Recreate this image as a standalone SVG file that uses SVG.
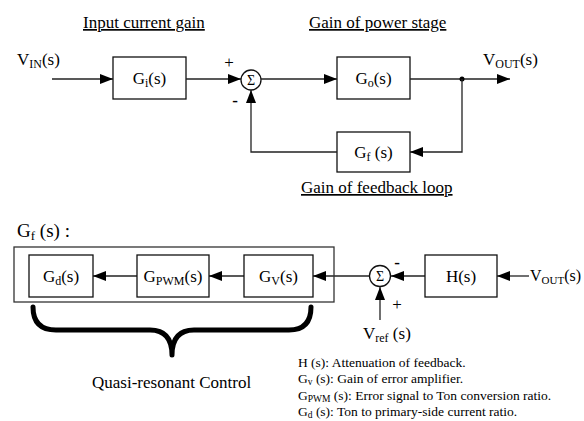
<svg xmlns="http://www.w3.org/2000/svg" width="584" height="421" viewBox="0 0 584 421">
<style>
text{font-family:"Liberation Serif","Times New Roman",serif;fill:#000}
.t{font-size:17px}
.c{text-anchor:middle}
.u{text-decoration:underline}
.l{font-size:13.5px}
.box{fill:#fff;stroke:#111;stroke-width:1.3}
.ln{fill:none;stroke:#222;stroke-width:1.3}
.sum{fill:#fff;stroke:#111;stroke-width:1.3}
</style>
<defs>
<marker id="ah" markerUnits="userSpaceOnUse" markerWidth="14" markerHeight="12" refX="13" refY="5.5" orient="auto">
<path d="M0,0.5 L13,5.5 L0,10.5 z" fill="#000"/>
</marker>
</defs>
<rect width="584" height="421" fill="#fff"/>

<text class="t u" x="83" y="28">Input current gain</text>
<text class="t u" x="309" y="28">Gain of power stage</text>
<text class="t u" x="301" y="193">Gain of feedback loop</text>

<g id="vin"><text class="t" x="17" y="65">V<tspan font-size="12" dy="3">IN</tspan><tspan dy="-3">(s)</tspan></text></g>
<g id="vout-top"><text class="t" x="483" y="65">V<tspan font-size="12" dy="3">OUT</tspan><tspan dy="-3">(s)</tspan></text></g>

<g id="gi"><rect class="box" x="113" y="57" width="73" height="42"/><text class="t c" x="149.5" y="84">G<tspan font-size="12" dy="3">i</tspan><tspan dy="-3">(s)</tspan></text></g>
<g id="sum1"><circle class="sum" cx="251" cy="80" r="10"/><text x="251" y="85" font-size="14" class="c">Σ</text>
<text x="229" y="68" font-size="17" class="c">+</text><text x="235" y="106" font-size="17" font-weight="bold" class="c">-</text></g>
<g id="go"><rect class="box" x="337" y="57" width="73" height="42"/><text class="t c" x="373.5" y="84">G<tspan font-size="12" dy="3">o</tspan><tspan dy="-3">(s)</tspan></text></g>
<g id="gf"><rect class="box" x="337" y="132" width="73" height="40"/><text class="t c" x="373.5" y="158">G<tspan font-size="12" dy="3">f</tspan><tspan dy="-3"> (s)</tspan></text></g>

<g id="connectors">
<line class="ln" x1="52" y1="79" x2="113" y2="79" marker-end="url(#ah)"/>
<line class="ln" x1="186" y1="79" x2="241" y2="79" marker-end="url(#ah)"/>
<line class="ln" x1="261" y1="79" x2="337" y2="79" marker-end="url(#ah)"/>
<line class="ln" x1="410" y1="79" x2="510" y2="79" marker-end="url(#ah)"/>
<circle cx="462" cy="79" r="2.5" fill="#000"/>
<polyline class="ln" points="462,79 462,152 410,152" marker-end="url(#ah)"/>
<polyline class="ln" points="337,152 251,152 251,90" marker-end="url(#ah)"/>

<line class="ln" x1="137" y1="276" x2="93" y2="276" marker-end="url(#ah)"/>
<line class="ln" x1="244" y1="276" x2="209" y2="276" marker-end="url(#ah)"/>
<line class="ln" x1="369" y1="276" x2="313" y2="276" marker-end="url(#ah)"/>
<line class="ln" x1="425" y1="276" x2="391" y2="276" marker-end="url(#ah)"/>
<line class="ln" x1="529" y1="276" x2="497" y2="276" marker-end="url(#ah)"/>
<line class="ln" x1="380" y1="320" x2="380" y2="287" marker-end="url(#ah)"/>
</g>

<g id="gf-label"><text x="17" y="237" font-size="19">G<tspan font-size="13" dy="3">f</tspan><tspan dy="-3"> (s) :</tspan></text></g>
<g id="outer"><rect x="14" y="247" width="320" height="55" fill="none" stroke="#333" stroke-width="1.3"/></g>
<g id="gd"><rect class="box" x="29" y="255" width="64" height="42"/><text class="t c" x="61" y="282">G<tspan font-size="12" dy="3">d</tspan><tspan dy="-3">(s)</tspan></text></g>
<g id="gpwm"><rect class="box" x="137" y="255" width="72" height="42"/><text class="t c" x="173" y="282">G<tspan font-size="12" dy="3">PWM</tspan><tspan dy="-3">(s)</tspan></text></g>
<g id="gv"><rect class="box" x="244" y="255" width="69" height="42"/><text class="t c" x="278.5" y="282">G<tspan font-size="12" dy="3">V</tspan><tspan dy="-3">(s)</tspan></text></g>
<g id="sum2"><circle class="sum" cx="380" cy="276" r="10.5"/><text x="380" y="281" font-size="14" class="c">Σ</text>
<text x="397" y="268" font-size="17" font-weight="bold" class="c">-</text><text x="397" y="310" font-size="17" class="c">+</text></g>
<g id="h"><rect class="box" x="425" y="255" width="72" height="42"/><text class="t c" x="461" y="282">H(s)</text></g>
<g id="vout-bot"><text x="530" y="281" font-size="16">V<tspan font-size="11" dy="3">OUT</tspan><tspan dy="-3">(s)</tspan></text></g>
<g id="vref"><text class="t" x="363" y="339">V<tspan font-size="12" dy="3">ref</tspan><tspan dy="-3"> (s)</tspan></text></g>

<g id="brace"><path d="M33,307 Q33,330 56,330 L150,330 Q172,330 172,355 Q172,330 194,330 L289,330 Q311,330 311,307" fill="none" stroke="#000" stroke-width="5" stroke-linecap="round" stroke-linejoin="round"/></g>
<text class="t" x="92" y="388">Quasi-resonant Control</text>

<g id="legend">
<text class="l" x="298" y="367">H (s): Attenuation of feedback.</text>
<text class="l" x="298" y="383">G<tspan font-size="9.5" dy="2">v</tspan><tspan dy="-2"> (s): Gain of error amplifier.</tspan></text>
<text class="l" x="298" y="400">G<tspan font-size="9.5" dy="2">PWM</tspan><tspan dy="-2"> (s): Error signal to Ton conversion ratio.</tspan></text>
<text class="l" x="298" y="416">G<tspan font-size="9.5" dy="2">d</tspan><tspan dy="-2"> (s): Ton to primary-side current ratio.</tspan></text>
</g>
</svg>
